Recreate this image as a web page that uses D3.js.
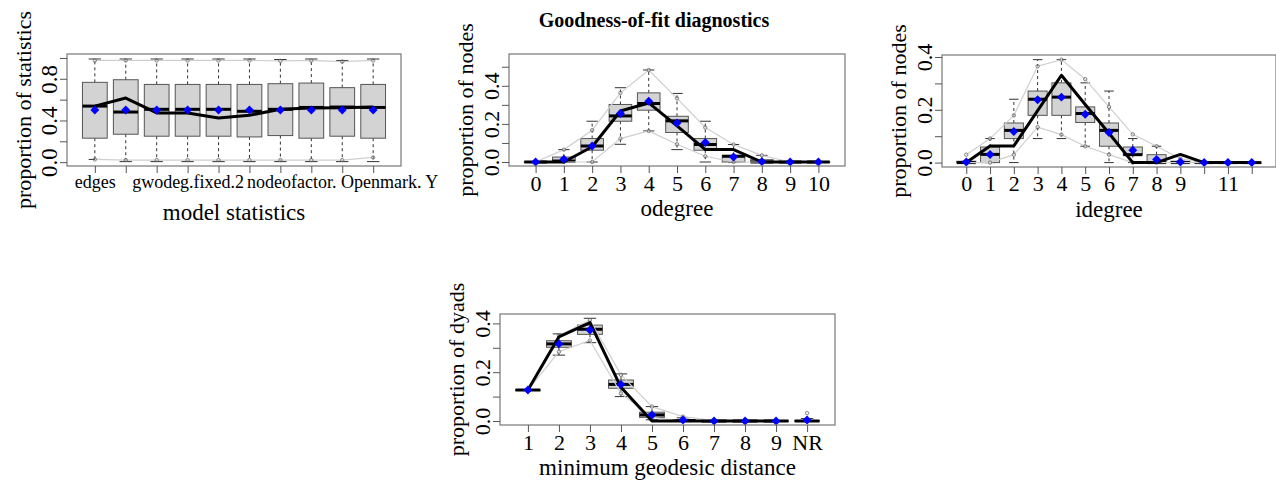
<!DOCTYPE html>
<html>
<head>
<meta charset="utf-8">
<script src="https://cdn.jsdelivr.net/npm/d3@7"></script>
<style>
  body { margin: 0; background: #fff; }
  text { font-family: "Liberation Serif", "Times New Roman", serif; fill: #000; }
</style>
</head>
<body>
<script>
// ---- model statistics ----
let msLabels = ["edges", "", "", "gwodeg.fixed.2", "", "", "", "", "nodeofactor. Openmark. Y", ""];
let msWlo = [0.026, 0.005, 0.005, 0.005, 0.005, 0.005, 0.005, 0.005, 0.005, 0.005];
let msQ1 = [0.230, 0.268, 0.249, 0.249, 0.249, 0.242, 0.255, 0.230, 0.249, 0.230];
let msMed = [0.538, 0.481, 0.507, 0.507, 0.507, 0.488, 0.507, 0.525, 0.529, 0.525];
let msQ3 = [0.766, 0.791, 0.746, 0.746, 0.746, 0.746, 0.753, 0.759, 0.715, 0.746];
let msWhi = [0.99, 0.99, 0.99, 0.99, 0.99, 0.99, 0.985, 0.99, 0.976, 0.99];
let msMean = [0.5, 0.5, 0.5, 0.5, 0.5, 0.5, 0.5, 0.5, 0.5, 0.5];
let msObs = [0.538, 0.615, 0.472, 0.472, 0.424, 0.45, 0.507, 0.52, 0.523, 0.529];
let msHi = [0.976, 0.976, 0.976, 0.976, 0.976, 0.976, 0.972, 0.976, 0.965, 0.976];
let msLo = [0.026, 0.02, 0.02, 0.02, 0.02, 0.02, 0.02, 0.02, 0.02, 0.045];

// ---- odegree ----
let odLabels = ["0", "1", "2", "3", "4", "5", "6", "7", "8", "9", "10"];
let odWlo = [0, 0, 0, 0.093, 0.163, 0.065, 0, 0, 0, 0, 0];
let odQ1 = [0, 0, 0.062, 0.214, 0.272, 0.155, 0.062, 0, 0, 0, 0];
let odMed = [0, 0.005, 0.084, 0.242, 0.307, 0.216, 0.092, 0.03, 0, 0, 0];
let odQ3 = [0, 0.026, 0.123, 0.302, 0.363, 0.24, 0.123, 0.035, 0.012, 0, 0];
let odWhi = [0, 0.065, 0.214, 0.39, 0.483, 0.36, 0.214, 0.092, 0.035, 0, 0];
let odMean = [0, 0.014, 0.084, 0.255, 0.319, 0.205, 0.102, 0.026, 0.002, 0, 0];
let odObs = [0, 0, 0.08, 0.268, 0.31, 0.19, 0.065, 0.065, 0, 0, 0];
let odHi = [0, 0.065, 0.167, 0.363, 0.483, 0.334, 0.181, 0.092, 0.035, 0, 0];
let odLo = [0, 0, 0, 0.123, 0.163, 0.093, 0.03, 0, 0, 0, 0];

// ---- idegree ----
let idLabels = ["0", "1", "2", "3", "4", "5", "6", "7", "8", "9", "", "11", ""];
let idWlo = [0, 0, 0, 0.091, 0.091, 0.062, 0, 0, 0, 0, 0, 0, 0];
let idQ1 = [0, 0, 0.091, 0.179, 0.179, 0.152, 0.062, 0.03, 0, 0, 0, 0, 0];
let idMed = [0, 0.031, 0.122, 0.24, 0.248, 0.186, 0.122, 0.03, 0, 0, 0, 0, 0];
let idQ3 = [0.005, 0.059, 0.15, 0.271, 0.302, 0.211, 0.15, 0.059, 0.03, 0.005, 0, 0, 0];
let idWhi = [0.005, 0.091, 0.24, 0.39, 0.39, 0.302, 0.271, 0.091, 0.062, 0.005, 0, 0, 0];
let idMean = [0.002, 0.031, 0.118, 0.238, 0.248, 0.183, 0.114, 0.047, 0.012, 0.002, 0, 0, 0];
let idObs = [0, 0.063, 0.063, 0.197, 0.331, 0.22, 0.111, 0, 0, 0.031, 0, 0, 0];
let idHi = [0.03, 0.091, 0.179, 0.365, 0.39, 0.316, 0.211, 0.107, 0.062, 0.015, 0, 0, 0];
let idLo = [0, 0, 0.03, 0.134, 0.106, 0.062, 0.03, 0, 0, 0, 0, 0, 0];

// ---- minimum geodesic distance (last one is NR, not joined) ----
let gdLabels = ["1", "2", "3", "4", "5", "6", "7", "8", "9", "NR"];
let gdWlo = [0.127, 0.27, 0.321, 0.1, 0.005, 0, 0, 0, 0, 0];
let gdQ1 = [0.127, 0.302, 0.355, 0.134, 0.015, 0, 0, 0, 0, 0];
let gdMed = [0.127, 0.316, 0.376, 0.15, 0.025, 0.002, 0, 0, 0, 0];
let gdQ3 = [0.127, 0.329, 0.393, 0.168, 0.036, 0.005, 0, 0, 0, 0.002];
let gdWhi = [0.127, 0.357, 0.421, 0.193, 0.059, 0.013, 0, 0, 0, 0.01];
let gdMean = [0.127, 0.316, 0.373, 0.15, 0.025, 0.004, 0, 0, 0, 0.004];
let gdObs = [0.127, 0.345, 0.403, 0.138, 0, 0, 0, 0, 0, 0];
let gdHi = [0.127, 0.35, 0.414, 0.189, 0.059, 0.018, 0.002, 0, 0, 0.032];
let gdLo = [0.127, 0.284, 0.33, 0.113, 0.015, 0, 0, 0, 0, 0];

let svg = d3.select("body").append("svg").attr("width", 1276).attr("height", 480);

svg.append("text").attr("x", 654).attr("y", 27).attr("text-anchor", "middle")
  .style("font-size", "20px").style("font-weight", "bold")
  .text("Goodness-of-fit diagnostics");

function panel(p) {
  let n = p.labels.length;
  let x = d3.scaleLinear().domain([0.5 - 0.04 * n, n + 0.5 + 0.04 * n]).range([p.left, p.left + p.w]);
  let y = d3.scaleLinear().domain(p.yDomain).range([p.top + p.h, p.top]);
  let step = x(2) - x(1);
  let bw = step * 0.8;
  let g = svg.append("g");
  let idx = d3.range(n);
  let joined = p.joinLast === false ? n - 1 : n;

  // boxes
  let b = g.selectAll("g.box").data(idx).enter().append("g");
  b.append("line").attr("x1", i => x(i + 1)).attr("x2", i => x(i + 1))
    .attr("y1", i => y(p.q3[i])).attr("y2", i => y(p.whi[i]))
    .attr("stroke", "#333").attr("stroke-dasharray", "3,3");
  b.append("line").attr("x1", i => x(i + 1)).attr("x2", i => x(i + 1))
    .attr("y1", i => y(p.q1[i])).attr("y2", i => y(p.wlo[i]))
    .attr("stroke", "#333").attr("stroke-dasharray", "3,3");
  b.append("line").attr("x1", i => x(i + 1) - bw / 4).attr("x2", i => x(i + 1) + bw / 4)
    .attr("y1", i => y(p.whi[i])).attr("y2", i => y(p.whi[i])).attr("stroke", "#333");
  b.append("line").attr("x1", i => x(i + 1) - bw / 4).attr("x2", i => x(i + 1) + bw / 4)
    .attr("y1", i => y(p.wlo[i])).attr("y2", i => y(p.wlo[i])).attr("stroke", "#333");
  b.append("rect").attr("x", i => x(i + 1) - bw / 2).attr("width", bw)
    .attr("y", i => y(p.q3[i])).attr("height", i => Math.max(0.5, y(p.q1[i]) - y(p.q3[i])))
    .attr("fill", "#d3d3d3").attr("stroke", "#555").attr("stroke-width", 1);
  b.append("line").attr("x1", i => x(i + 1) - bw / 2).attr("x2", i => x(i + 1) + bw / 2)
    .attr("y1", i => y(p.med[i])).attr("y2", i => y(p.med[i]))
    .attr("stroke", "#000").attr("stroke-width", 3);

  // 2.5% / 97.5% envelope
  let line = d3.line().x(i => x(i + 1));
  [p.hi, p.lo].forEach(arr => {
    g.append("path").attr("d", line.y(i => y(arr[i]))(d3.range(joined)))
      .attr("fill", "none").attr("stroke", "#cfcfcf").attr("stroke-width", 1.2);
    g.selectAll(null).data(idx).enter().append("circle")
      .attr("cx", i => x(i + 1)).attr("cy", i => y(arr[i])).attr("r", 1.7)
      .attr("fill", "none").attr("stroke", "#666").attr("stroke-width", 0.8);
  });

  // observed
  g.append("path").attr("d", line.y(i => y(p.obs[i]))(d3.range(joined)))
    .attr("fill", "none").attr("stroke", "#000").attr("stroke-width", 3)
    .attr("stroke-linejoin", "round");

  // simulated means
  g.selectAll("path.mean").data(idx).enter().append("path")
    .attr("d", d3.symbol(d3.symbolSquare, 40))
    .attr("transform", i => `translate(${x(i + 1)},${y(p.mean[i])}) rotate(45)`)
    .attr("fill", "#0000ff");

  // frame
  g.append("rect").attr("x", p.left).attr("y", p.top).attr("width", p.w).attr("height", p.h)
    .attr("fill", "none").attr("stroke", "#777").attr("stroke-width", 1.2);

  // axes
  let ya = g.append("g").attr("transform", `translate(${p.left},0)`)
    .call(d3.axisLeft(y).tickValues(p.yTicks).tickSize(7)
      .tickFormat(d => p.yShow.includes(d) ? d3.format(".1f")(d) : ""));
  ya.select(".domain").remove();
  ya.selectAll("line").attr("stroke", "#555");
  ya.selectAll("text").attr("x", 0).attr("dy", 0).attr("text-anchor", "middle")
    .attr("transform", "translate(-10,0) rotate(-90)")
    .style("font-size", p.yFont + "px");

  let xa = g.append("g").attr("transform", `translate(0,${p.top + p.h})`)
    .call(d3.axisBottom(x).tickValues(d3.range(1, n + 1)).tickSize(7)
      .tickFormat((d, i) => p.labels[i]));
  xa.select(".domain").remove();
  xa.selectAll("line").attr("stroke", "#555");
  xa.selectAll("text").attr("y", p.xLabOff).attr("dy", 0).style("font-size", p.xFont + "px");

  g.append("text").attr("x", p.left + p.w / 2).attr("y", p.top + p.h + p.xTitleOff)
    .attr("text-anchor", "middle").style("font-size", "23px").text(p.xTitle);
  g.append("text").attr("text-anchor", "middle").style("font-size", "22px")
    .attr("transform", `translate(${p.left - 36},${p.top + p.h / 2}) rotate(-90)`)
    .text(p.yTitle);
}

panel({
  labels: msLabels, wlo: msWlo, q1: msQ1, med: msMed, q3: msQ3, whi: msWhi,
  mean: msMean, obs: msObs, hi: msHi, lo: msLo,
  left: 67, top: 54, w: 334, h: 112, yDomain: [-0.037, 1.038],
  yTicks: [0, 0.2, 0.4, 0.6, 0.8, 1.0], yShow: [0, 0.4, 0.8], yFont: 23,
  xFont: 18, xLabOff: 22, xTitleOff: 54,
  xTitle: "model statistics", yTitle: "proportion of statistics"
});
panel({
  labels: odLabels, wlo: odWlo, q1: odQ1, med: odMed, q3: odQ3, whi: odWhi,
  mean: odMean, obs: odObs, hi: odHi, lo: odLo,
  left: 509, top: 54, w: 336, h: 112, yDomain: [-0.021, 0.567],
  yTicks: [0, 0.1, 0.2, 0.3, 0.4, 0.5], yShow: [0, 0.2, 0.4], yFont: 22,
  xFont: 22, xLabOff: 24.5, xTitleOff: 50,
  xTitle: "odegree", yTitle: "proportion of nodes"
});
panel({
  labels: idLabels, wlo: idWlo, q1: idQ1, med: idMed, q3: idQ3, whi: idWhi,
  mean: idMean, obs: idObs, hi: idHi, lo: idLo,
  left: 942, top: 55, w: 334, h: 112, yDomain: [-0.0167, 0.4076],
  yTicks: [0, 0.1, 0.2, 0.3, 0.4], yShow: [0, 0.2, 0.4], yFont: 22,
  xFont: 22, xLabOff: 24, xTitleOff: 49.5,
  xTitle: "idegree", yTitle: "proportion of nodes"
});
panel({
  labels: gdLabels, wlo: gdWlo, q1: gdQ1, med: gdMed, q3: gdQ3, whi: gdWhi,
  mean: gdMean, obs: gdObs, hi: gdHi, lo: gdLo, joinLast: false,
  left: 500, top: 314, w: 335, h: 111, yDomain: [-0.0164, 0.4385],
  yTicks: [0, 0.1, 0.2, 0.3, 0.4], yShow: [0, 0.2, 0.4], yFont: 22,
  xFont: 22, xLabOff: 24.5, xTitleOff: 50,
  xTitle: "minimum geodesic distance", yTitle: "proportion of dyads"
});
</script>
</body>
</html>
